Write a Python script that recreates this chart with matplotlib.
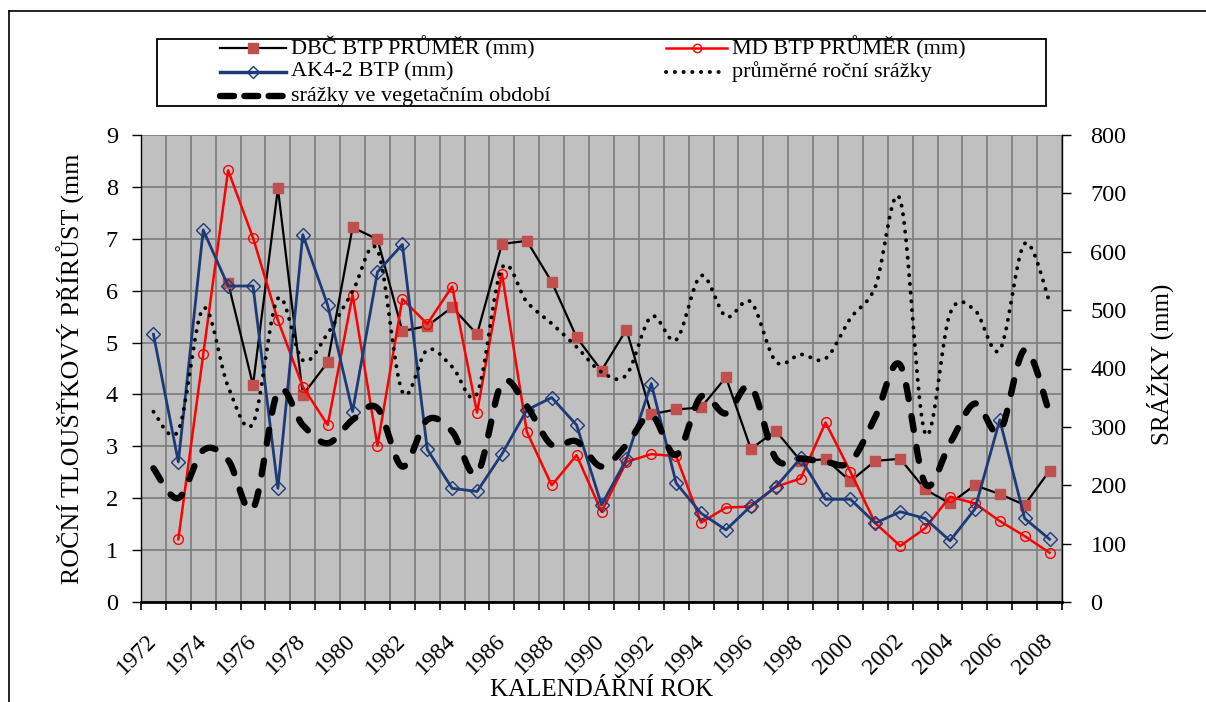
import numpy as np
import matplotlib
matplotlib.use("Agg")
import matplotlib.pyplot as plt
from matplotlib.lines import Line2D
from matplotlib.patches import Rectangle

plt.rcParams['font.family'] = ['Liberation Serif', 'DejaVu Serif']

years = list(range(1972, 2009))
nan = np.nan

# annual diameter increment (left axis, mm)
dbc_btp = [nan, nan, nan, 6.15, 4.18, 7.97, 3.99, 4.62, 7.22, 6.99, 5.22, 5.32, 5.68,
           5.16, 6.90, 6.96, 6.17, 5.10, 4.46, 5.25, 3.62, 3.71, 3.75, 4.33, 2.95,
           3.30, 2.72, 2.75, 2.33, 2.72, 2.76, 2.17, 1.90, 2.25, 2.08, 1.87, 2.53]
md_btp = [nan, 1.21, 4.77, 8.32, 7.02, 5.43, 4.15, 3.41, 5.92, 3.01, 5.84, 5.36, 6.08,
          3.65, 6.33, 3.28, 2.25, 2.83, 1.74, 2.70, 2.85, 2.81, 1.53, 1.82, 1.84,
          2.22, 2.38, 3.46, 2.51, 1.52, 1.08, 1.42, 2.03, 1.90, 1.56, 1.27, 0.95]
ak42_btp = [5.16, 2.70, 7.17, 6.09, 6.09, 2.19, 7.08, 5.72, 3.67, 6.36, 6.89, 2.94, 2.19,
            2.13, 2.85, 3.70, 3.94, 3.41, 1.87, 2.75, 4.21, 2.29, 1.71, 1.39, 1.85,
            2.22, 2.77, 1.98, 1.98, 1.52, 1.74, 1.61, 1.18, 1.79, 3.51, 1.61, 1.21]

# precipitation (right axis, mm)
annual_precip = [326, 294, 503, 369, 306, 520, 414, 460, 532, 603, 360, 432, 403,
                 357, 572, 514, 477, 437, 394, 389, 489, 449, 559, 489, 514,
                 412, 424, 417, 486, 540, 689, 289, 494, 500, 432, 614, 514]
veg_precip = [229, 178, 260, 243, 160, 360, 303, 272, 312, 332, 232, 312, 292,
              220, 375, 335, 269, 275, 232, 269, 320, 252, 352, 323, 369,
              246, 246, 240, 240, 317, 406, 203, 272, 340, 292, 432, 323]

year_labels = [str(y) for y in years[::2]]

W, H = 1206, 702
fig = plt.figure(figsize=(W / 100, H / 100), dpi=100)


def fx(x):
    return x / W


def fy(y):
    return 1 - y / H


def smooth(xs, ys, n=24):
    """Bezier smoothing through every point (control points at 1/6 of neighbour span)."""
    p = np.column_stack([xs, ys]).astype(float)
    ext = np.vstack([p[0], p, p[-1]])
    t = np.linspace(0, 1, n)[:, None]
    out = []
    for i in range(len(p) - 1):
        p0, p1, p2, p3 = ext[i], ext[i + 1], ext[i + 2], ext[i + 3]
        c1 = p1 + (p2 - p0) / 6
        c2 = p2 - (p3 - p1) / 6
        seg = ((1 - t) ** 3) * p1 + 3 * ((1 - t) ** 2) * t * c1 + 3 * (1 - t) * t ** 2 * c2 + t ** 3 * p2
        out.append(seg if i == 0 else seg[1:])
    s = np.vstack(out)
    return s[:, 0], s[:, 1]


# frame around the chart
fig.add_artist(Line2D([fx(9), 1.0], [fy(11), fy(11)], transform=fig.transFigure, color='black', lw=1.2))
fig.add_artist(Line2D([fx(9), fx(9)], [fy(11), 0.0], transform=fig.transFigure, color='black', lw=1.2))

left, right, top, bottom = 141, 1062, 135, 602
ax = fig.add_axes([fx(left), fy(bottom), fx(right - left), (bottom - top) / H])
ax.set_facecolor('#C0C0C0')

x = np.arange(len(years))
ax.set_xlim(-0.5, len(years) - 0.5)
ax.set_ylim(0, 9)
ax.set_yticks(range(0, 10))

# category boundaries as major ticks, year labels on every second category
ax.set_xticks(np.arange(-0.5, len(years), 1.0))
ax.set_xticklabels([])
ax.set_xticks(x[::2], minor=True)
ax.set_xticklabels(year_labels, minor=True, rotation=45, ha='right', va='center',
                   rotation_mode='anchor', fontsize=17)
ax.tick_params(axis='x', which='major', direction='out', length=6, width=1.2, color='black')
ax.tick_params(axis='x', which='minor', length=0, pad=26)
ax.tick_params(axis='y', direction='out', length=6.5, width=1, labelsize=17.5, pad=10)

ax.grid(True, which='major', axis='both', color='#808080', lw=1.3)
ax.set_axisbelow(True)
for s in ('top', 'right'):
    ax.spines[s].set_visible(False)
ax.spines['left'].set_linewidth(1)
ax.spines['bottom'].set_linewidth(2)

ax.plot(x, dbc_btp, color='black', lw=1.6, marker='s', ms=7, mfc='#C0504D', mec='#C0504D', zorder=3)
ax.plot(x, md_btp, color='#FF0000', lw=1.8, marker='o', ms=7, mfc='none', mec='#FF0000', mew=1, zorder=3)
ax.plot(x, ak42_btp, color='#1C3A78', lw=2.0, marker='D', ms=7.5, mfc='none', mec='#1C3A78', mew=1, zorder=3)

ax.set_ylabel('ROČNÍ TLOUŠŤKOVÝ PŘÍRŮST (mm', fontsize=18.7, labelpad=15)
ax.set_xlabel('KALENDÁŘNÍ ROK', fontsize=18, labelpad=0)

ax2 = ax.twinx()
ax2.set_ylim(0, 800)
ax2.set_yticks(range(0, 900, 100))
ax2.tick_params(axis='y', direction='out', length=6.5, width=1, labelsize=17.5, pad=14)
for s in ('top', 'left', 'bottom'):
    ax2.spines[s].set_visible(False)
ax2.spines['right'].set_linewidth(1)

sx, sy = smooth(x, annual_precip)
ax2.plot(sx, sy, color='black', lw=2.8, linestyle=(0, (0.05, 2.2)), dash_capstyle='round')
vx, vy = smooth(x, veg_precip)
ax2.plot(vx, vy, color='black', lw=4.6, linestyle=(0, (2.2, 2.7)), dash_capstyle='round')
ax2.set_ylabel('SRÁŽKY (mm)', fontsize=18, labelpad=14)
ax2.yaxis.label.set_y(0.51)

# legend box
fig.add_artist(Rectangle((fx(157), fy(106)), fx(1046 - 157), (106 - 39) / H,
                         transform=fig.transFigure, fill=False, ec='black', lw=1.3))


def legend_entry(x0, x1, y, text, **style):
    mk = {k: style.pop(k) for k in list(style) if k.startswith('m')}
    fig.add_artist(Line2D([fx(x0), fx(x1)], [fy(y), fy(y)], transform=fig.transFigure, **style))
    if mk:
        fig.add_artist(Line2D([fx((x0 + x1) / 2)], [fy(y)], transform=fig.transFigure,
                              linestyle='none', **mk))
    fig.text(fx(x1 + 5), fy(y), text, fontsize=16, va='center', ha='left')


legend_entry(220, 286, 48, 'DBČ BTP PRŮMĚR (mm)', color='black', lw=1.6,
             marker='s', ms=7, mfc='#C0504D', mec='#C0504D')
legend_entry(666, 727, 48, 'MD BTP PRŮMĚR (mm)', color='#FF0000', lw=1.8,
             marker='o', ms=6, mfc='none', mec='#FF0000')
legend_entry(220, 286, 72, 'AK4-2 BTP (mm)', color='#1C3A78', lw=2.5,
             marker='D', ms=6.5, mfc='none', mec='#1C3A78')
legend_entry(666, 727, 72, 'průměrné roční srážky', color='black', lw=2.8,
             linestyle=(0, (0.05, 2.2)), dash_capstyle='round')
legend_entry(220, 286, 96, 'srážky ve vegetačním období', color='black', lw=4.6,
             linestyle=(0, (2.2, 1.6)), dash_capstyle='round')

fig.savefig('out.png', dpi=100)
